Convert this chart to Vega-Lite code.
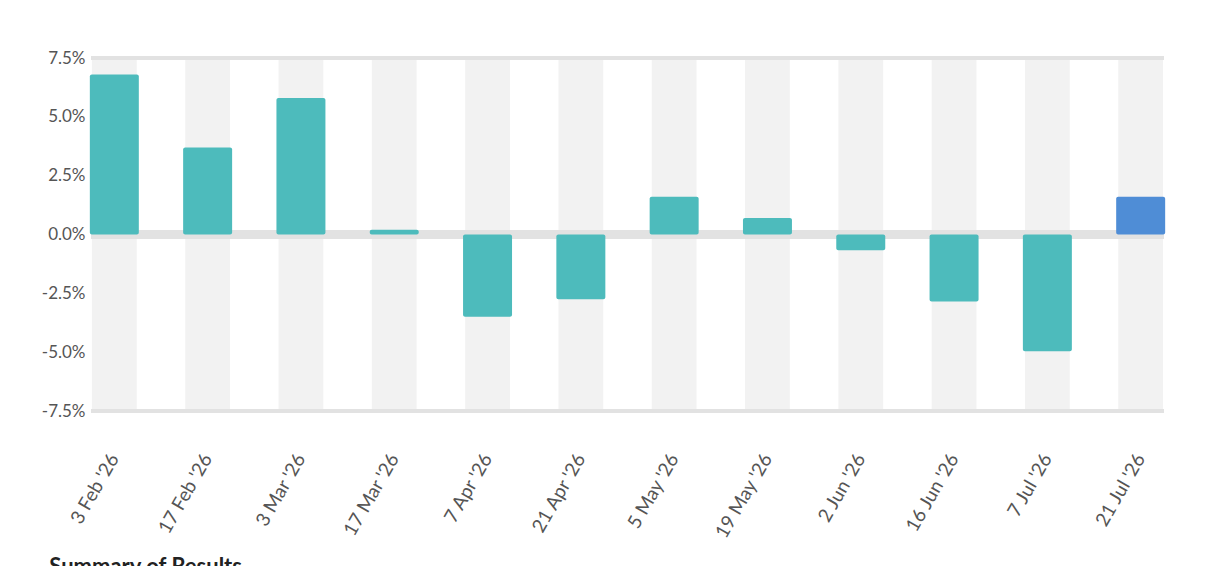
{
  "$schema": "https://vega.github.io/schema/vega-lite/v6.json",
  "autosize": "none",
  "width": 1073,
  "height": 353,
  "padding": {"left": 91, "top": 58, "right": 60, "bottom": 155},
  "background": "white",
  "config": {
    "font": "Lato",
    "view": {"stroke": null}
  },
  "title": {
    "text": "Summary of Results",
    "orient": "bottom",
    "anchor": "start",
    "frame": "bounds",
    "fontSize": 22,
    "fontWeight": "bold",
    "color": "#222",
    "offset": 16,
    "dx": 8
  },
  "data": {
    "values": [
      {"date": "3 Feb '26", "change": 6.8, "latest": "no"},
      {"date": "17 Feb '26", "change": 3.7, "latest": "no"},
      {"date": "3 Mar '26", "change": 5.8, "latest": "no"},
      {"date": "17 Mar '26", "change": 0.2, "latest": "no"},
      {"date": "7 Apr '26", "change": -3.5, "latest": "no"},
      {"date": "21 Apr '26", "change": -2.75, "latest": "no"},
      {"date": "5 May '26", "change": 1.6, "latest": "no"},
      {"date": "19 May '26", "change": 0.7, "latest": "no"},
      {"date": "2 Jun '26", "change": -0.67, "latest": "no"},
      {"date": "16 Jun '26", "change": -2.85, "latest": "no"},
      {"date": "7 Jul '26", "change": -4.96, "latest": "no"},
      {"date": "21 Jul '26", "change": 1.6, "latest": "yes"}
    ]
  },
  "encoding": {
    "x": {
      "field": "date",
      "type": "nominal",
      "sort": null,
      "scale": {"paddingInner": 0.5, "paddingOuter": 0},
      "axis": {
        "title": null,
        "labelAngle": -60,
        "labelAlign": "right",
        "labelBaseline": "middle",
        "labelPadding": 44,
        "labelFontSize": 19,
        "labelColor": "#555",
        "ticks": false,
        "domain": false,
        "grid": false
      }
    }
  },
  "layer": [
    {
      "mark": {"type": "bar", "color": "#f2f2f2", "width": {"band": 0.96}},
      "encoding": {
        "y": {"datum": 7.5, "type": "quantitative"},
        "y2": {"datum": -7.5}
      }
    },
    {
      "mark": {"type": "rule", "color": "#e2e2e2", "strokeWidth": 4},
      "encoding": {"y": {"datum": 7.5, "type": "quantitative"}, "x": null}
    },
    {
      "mark": {"type": "rule", "color": "#e2e2e2", "strokeWidth": 3},
      "encoding": {"y": {"datum": -7.5, "type": "quantitative"}, "x": null}
    },
    {
      "mark": {"type": "rule", "color": "#e2e2e2", "strokeWidth": 8},
      "encoding": {"y": {"datum": 0, "type": "quantitative"}, "x": null}
    },
    {
      "mark": {"type": "bar", "cornerRadiusEnd": 2, "width": {"band": 1.05}},
      "encoding": {
        "y": {
          "field": "change",
          "type": "quantitative",
          "scale": {"domain": [-7.5, 7.5], "nice": false, "zero": true},
          "axis": {
            "title": null,
            "values": [-7.5, -5, -2.5, 0, 2.5, 5, 7.5],
            "labelExpr": "(datum.value < 0 ? '-' : '') + format(abs(datum.value), '.1f') + '%'",
            "labelFontSize": 17,
            "labelColor": "#555",
            "labelPadding": 6,
            "ticks": false,
            "domain": false,
            "grid": false
          }
        },
        "y2": {"datum": 0},
        "color": {
          "field": "latest",
          "type": "nominal",
          "scale": {"domain": ["no", "yes"], "range": ["#4dbbbc", "#4f8dd6"]},
          "legend": null
        }
      }
    }
  ]
}
